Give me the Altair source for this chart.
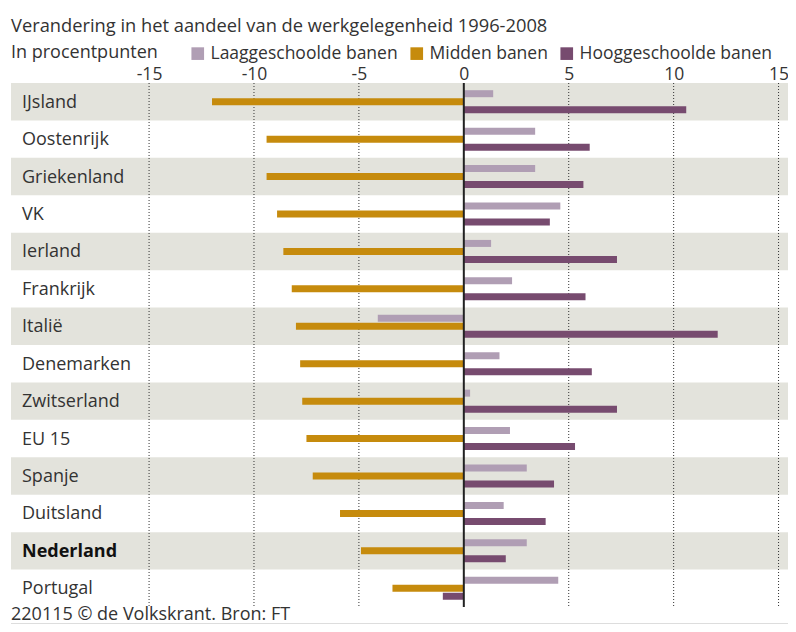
import altair as alt
import pandas as pd

countries = ["IJsland", "Oostenrijk", "Griekenland", "VK", "Ierland", "Frankrijk", "Italië",
             "Denemarken", "Zwitserland", "EU 15", "Spanje", "Duitsland", "Nederland", "Portugal"]
laag = [1.4, 3.4, 3.4, 4.6, 1.3, 2.3, -4.1, 1.7, 0.3, 2.2, 3.0, 1.9, 3.0, 4.5]
midden = [-12.0, -9.4, -9.4, -8.9, -8.6, -8.2, -8.0, -7.8, -7.7, -7.5, -7.2, -5.9, -4.9, -3.4]
hoog = [10.6, 6.0, 5.7, 4.1, 7.3, 5.8, 12.1, 6.1, 7.3, 5.3, 4.3, 3.9, 2.0, -1.0]
series_names = ["Laaggeschoolde banen", "Midden banen", "Hooggeschoolde banen"]
series_colors = ["#b09eb4", "#c68b0d", "#774b6f"]
tick_values = [-15, -10, -5, 0, 5, 10, 15]
highlight = "Nederland"
subtitle_text = "Verandering in het aandeel van de werkgelegenheid 1996-2008"
unit_text = "In procentpunten"
footer_text = "220115 © de Volkskrant. Bron: FT"

FONT = "Open Sans"
FS = 18
TXT = "#333333"
W, H = 777, 524

rows = []
for i, c in enumerate(countries):
    for s, vals in zip(series_names, [laag, midden, hoog]):
        rows.append({"country": c, "series": s, "value": vals[i]})
bars_df = pd.DataFrame(rows)
rows_df = pd.DataFrame({"country": countries, "idx": list(range(len(countries)))})
grid_df = pd.DataFrame({"t": [v for v in tick_values if v != 0]})

x_scale = alt.Scale(domain=[-21.58, 15.45], nice=False, zero=False)
y_enc = alt.Y("country:N", sort=countries,
              scale=alt.Scale(paddingInner=0, paddingOuter=0), axis=None)

bands = alt.Chart(rows_df).transform_filter("datum.idx % 2 == 0").mark_rect(
    color="#e3e3dc").encode(y=y_enc, x=alt.value(0), x2=alt.value(W))

grid = alt.Chart(grid_df).mark_rule(color="#333333", strokeWidth=1, strokeDash=[1, 2]).encode(
    x=alt.X("t:Q", scale=x_scale))

bars = alt.Chart(bars_df).mark_bar().encode(
    y=y_enc,
    yOffset=alt.YOffset("series:N", sort=series_names,
                        scale=alt.Scale(paddingInner=0.125, paddingOuter=0.9)),
    x=alt.X("value:Q", scale=x_scale,
            axis=alt.Axis(orient="top", values=tick_values, grid=False, domain=False,
                          ticks=False, labelFontSize=17.5, labelFont=FONT, labelColor=TXT,
                          labelPadding=0, title=None, labelFlush=False,
                          labelExpr="'' + datum.value")),
    color=alt.Color("series:N", sort=series_names,
                    scale=alt.Scale(domain=series_names, range=series_colors),
                    legend=alt.Legend(orient="none", legendX=178, legendY=-38.5,
                                      direction="horizontal", title=None,
                                      symbolType="square", symbolSize=160,
                                      symbolStrokeWidth=0, symbolOpacity=1,
                                      labelFontSize=17.5, labelFont=FONT, labelColor=TXT,
                                      labelLimit=0,
                                      columnPadding=10, labelOffset=4, padding=0)),
)

zero = alt.Chart(pd.DataFrame({"z": [0]})).mark_rule(color="#222222", strokeWidth=2).encode(
    x=alt.X("z:Q", scale=x_scale))

labels = alt.Chart(rows_df).transform_filter(alt.datum.country != highlight).mark_text(
    align="left", baseline="middle", dy=1, fontSize=FS, font=FONT, color=TXT).encode(
    y=y_enc, x=alt.value(11), text="country:N")

labels_bold = alt.Chart(rows_df).transform_filter(alt.datum.country == highlight).mark_text(
    align="left", baseline="middle", dy=1, fontSize=FS, font=FONT, fontWeight="bold",
    color="#111111").encode(y=y_enc, x=alt.value(11), text="country:N")

subtitle = alt.Chart(pd.DataFrame({"t": [subtitle_text]})).mark_text(
    align="left", baseline="alphabetic", fontSize=18.3, font=FONT, color=TXT).encode(
    text="t:N", x=alt.value(0), y=alt.value(-51.3))

unit = alt.Chart(pd.DataFrame({"t": [unit_text]})).mark_text(
    align="left", baseline="alphabetic", fontSize=FS, font=FONT, color=TXT).encode(
    text="t:N", x=alt.value(0), y=alt.value(-25.3))

footer = alt.Chart(pd.DataFrame({"t": [footer_text]})).mark_text(
    align="left", baseline="alphabetic", fontSize=FS, font=FONT, color=TXT).encode(
    text="t:N", x=alt.value(0), y=alt.value(537))

footer_line = alt.Chart(pd.DataFrame({"a": [0]})).mark_rule(color="#dddddd", strokeWidth=1).encode(
    x=alt.value(0), x2=alt.value(W), y=alt.value(540.5))

chart = alt.layer(bands, grid, bars, zero, labels, labels_bold, subtitle, unit, footer,
                  footer_line).properties(
    width=W, height=H,
    autosize=alt.AutoSizeParams(type="none"),
    padding={"left": 3, "top": 75, "right": 0, "bottom": 17},
).configure_view(stroke=None)

chart.save("out.html", embed_options={"renderer": "svg", "actions": False})
